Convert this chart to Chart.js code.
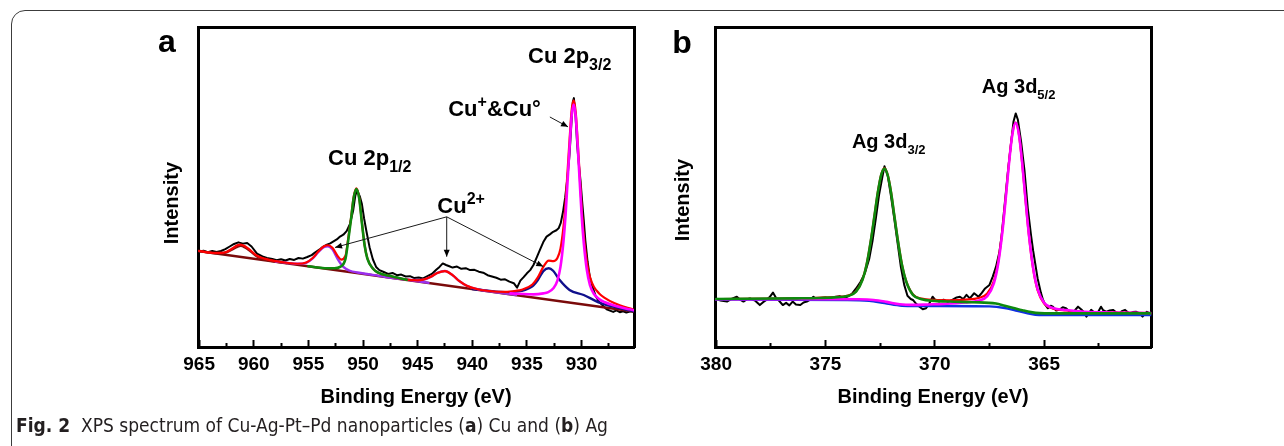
<!DOCTYPE html>
<html>
<head>
<meta charset="utf-8">
<script src="https://cdn.jsdelivr.net/npm/chart.js@4.4.1/dist/chart.umd.min.js"></script>
<style>
  html, body { margin:0; padding:0; background:#fff; width:1284px; height:446px; overflow:hidden; position:relative; }
  #frame { position:absolute; left:11px; top:10px; width:1400px; height:600px; border:1px solid #3c3c3c; border-radius:14px; box-sizing:border-box; }
  #ca { position:absolute; left:140px; top:0; width:520px; height:420px; }
  #cb { position:absolute; left:650px; top:0; width:530px; height:420px; }
  #cap { position:absolute; left:16px; top:414px; font-family:"Liberation Sans Narrow","DejaVu Sans Condensed",Arial,sans-serif; font-size:19px; color:#231f20; white-space:nowrap; }
</style>
</head>
<body>
<div id="frame"></div>
<canvas id="ca" width="520" height="420"></canvas>
<canvas id="cb" width="530" height="420"></canvas>
<div id="cap"><b>Fig. 2</b>&nbsp;&nbsp;XPS spectrum of Cu-Ag-Pt–Pd nanoparticles (<b>a</b>) Cu and (<b>b</b>) Ag</div>
<script>
// ---------------- Panel a : Cu 2p ----------------
const cuTicks = [965, 960, 955, 950, 945, 940, 935, 930];
const cuMinor = [962.5, 957.5, 952.5, 947.5, 942.5, 937.5, 932.5, 927.5];

const cuRaw = [[965.0,29.6],[964.6,29.9],[964.2,29.4],[963.8,29.8],[963.4,29.5],[963.0,29.8],[962.6,30.4],[962.2,31.2],[961.8,32.0],[961.4,32.5],[961.0,32.1],[960.6,32.3],[960.2,31.2],[959.7,29.0],[959.2,28.1],[958.8,27.6],[958.3,27.3],[957.9,26.9],[957.5,27.2],[957.1,26.8],[956.7,27.3],[956.3,27.0],[955.9,27.6],[955.5,27.4],[955.1,27.9],[954.7,28.5],[954.4,29.3],[954.0,30.2],[953.7,31.0],[953.3,31.8],[953.0,32.2],[952.7,32.8],[952.4,33.4],[952.1,34.3],[951.8,34.9],[951.5,36.0],[951.2,38.2],[950.9,42.5],[950.7,47.2],[950.55,48.8],[950.3,47.0],[950.1,44.5],[949.9,40.0],[949.7,36.2],[949.4,31.0],[949.1,27.2],[948.8,24.8],[948.5,23.8],[948.1,23.2],[947.7,22.6],[947.3,22.9],[946.9,22.2],[946.5,22.4],[946.1,21.8],[945.7,21.9],[945.3,21.3],[944.9,21.5],[944.5,21.2],[944.1,21.9],[943.7,22.6],[943.3,23.9],[943.0,24.8],[942.7,25.9],[942.4,25.4],[942.1,25.0],[941.8,24.6],[941.4,24.9],[941.0,24.2],[940.6,24.4],[940.2,23.8],[939.8,23.9],[939.4,23.3],[939.0,23.0],[938.6,22.2],[938.2,21.8],[937.8,21.4],[937.4,20.8],[937.0,20.9],[936.6,20.2],[936.2,19.7],[935.9,18.3],[935.6,20.5],[935.3,21.6],[935.0,22.8],[934.7,23.8],[934.4,25.4],[934.1,27.8],[933.8,30.2],[933.5,32.6],[933.2,34.3],[932.9,35.0],[932.6,35.8],[932.3,36.3],[932.1,36.9],[931.9,38.6],[931.7,42.0],[931.5,46.5],[931.3,52.5],[931.1,60.0],[930.95,68.5],[930.8,76.5],[930.7,77.7],[930.55,72.0],[930.4,63.0],[930.25,57.0],[930.1,52.0],[929.95,45.5],[929.8,39.5],[929.65,33.0],[929.45,26.5],[929.25,21.8],[929.0,18.6],[928.7,15.6],[928.4,13.9],[928.0,12.5],[927.7,11.5],[927.4,11.1],[927.1,10.7],[926.8,11.2],[926.5,10.6],[926.2,10.9],[925.9,10.5],[925.5,10.9],[925.2,10.7]];

const cuBaseline = [[965.1,29.8],[925.2,10.8]];

const cuSat961 = [[965,29.8],[963.5,29.1],[962.5,29.4],[962,30.2],[961.5,31.1],[961.2,31.4],[960.8,30.9],[960.3,29.7],[959.7,28.1],[959,27.2],[958,26.5],[957,26.0]];

const cuSat953 = [[958,26.5],[957,26.1],[956,25.8],[955.2,26.1],[954.6,27.5],[954.1,29.4],[953.6,31.0],[953.2,31.3],[952.8,30.3],[952.3,27.2],[951.8,24.8],[951.2,23.6],[950.5,23.05],[949.5,22.5],[948,21.7],[946,20.8],[944,19.8]];

const cu2p12 = [[955,25.0],[953.5,24.4],[952.6,24.4],[952.1,24.8],[951.6,27.4],[951.35,33.2],[951.1,39.6],[950.85,46.5],[950.6,49.2],[950.35,46.3],[950.1,38.6],[949.85,31.5],[949.6,27.4],[949.1,24.3],[948.6,23.0],[947.6,22.0],[946,20.8]];

const cuSat942 = [[948,21.7],[947,21.2],[945.5,20.7],[944.5,20.8],[943.8,21.7],[943.2,22.9],[942.5,23.5],[941.8,22.2],[941.2,20.4],[940.5,18.9],[939.5,17.8],[938,16.9],[936,16.0]];

const cu2p32Cu2 = [[940,17.9],[937,16.9],[935.5,17.3],[934.5,18.7],[934,20.7],[933.5,23.5],[933,24.4],[932.6,23.6],[932,20.7],[931.1,17.6],[929.8,16.0],[928.3,13.5],[926.5,11.9],[925.2,10.9]];

const cu2p32Cu0 = [[936.5,16.5],[935.8,16.4],[934.4,16.2],[933.5,16.5],[933.05,16.9],[932.58,18.1],[932.21,20.5],[931.93,24.8],[931.65,33.0],[931.46,41.2],[931.28,51.6],[931.09,62.7],[930.91,72.0],[930.72,75.7],[930.53,71.8],[930.35,62.4],[930.16,51.1],[929.98,40.5],[929.79,32.1],[929.51,23.7],[929.23,19.1],[928.86,16.3],[928.39,14.7],[927.92,13.8],[927.02,12.7],[925.62,11.5],[925.2,11.2]];

const cuEnvelope = [[965,29.8],[964,29.3],[963,29.2],[962.5,29.5],[962,30.5],[961.5,31.6],[961.2,31.8],[960.8,31.3],[960.3,30.0],[959.7,28.3],[959,27.4],[958,26.6],[957,26.1],[956,25.8],[955.2,26.2],[954.6,27.6],[954.1,29.6],[953.6,31.2],[953.2,31.6],[952.8,30.8],[952.3,28.1],[952.0,27.1],[951.6,28.3],[951.35,33.8],[951.1,40.0],[950.85,46.8],[950.6,49.45],[950.35,46.5],[950.1,38.75],[949.85,31.6],[949.6,27.5],[949.1,24.3],[948.6,23.0],[947.6,22.0],[946,20.8],[945,20.6],[944.5,20.8],[943.8,21.7],[943.2,22.9],[942.5,23.5],[941.8,22.2],[941.2,20.4],[940.5,18.9],[939.5,17.8],[938,17.1],[937,17.0],[936,17.3],[935.5,17.6],[934.5,19.3],[934,21.5],[933.5,24.8],[933,26.8],[932.58,26.6],[932.21,27.6],[931.93,30.5],[931.65,37.5],[931.46,45.0],[931.28,54.8],[931.09,65.0],[930.91,73.8],[930.72,77.0],[930.53,73.2],[930.35,64.0],[930.16,53.0],[929.98,42.8],[929.79,34.5],[929.51,26.3],[929.23,21.6],[928.86,18.5],[928.39,16.5],[927.92,15.2],[927.02,13.5],[925.62,11.8],[925.2,11.4]];

// ---------------- Panel b : Ag 3d ----------------
const agTicks = [380, 375, 370, 365];
const agMinor = [377.5, 372.5, 367.5, 362.5];

const agRaw = [[380.0,15.2],[379.8,14.5],[379.5,14.2],[379.3,15.0],[379.05,15.7],[378.9,14.8],[378.75,14.2],[378.6,14.9],[378.45,15.2],[378.2,14.4],[378.0,13.1],[377.85,14.0],[377.7,14.7],[377.55,15.6],[377.4,17.0],[377.25,15.2],[377.1,14.3],[376.95,13.1],[376.8,13.8],[376.65,13.0],[376.5,14.2],[376.35,13.3],[376.15,13.1],[376.0,13.9],[375.85,14.2],[375.7,14.8],[375.55,15.7],[375.4,15.0],[375.2,15.3],[375.0,15.5],[374.8,15.1],[374.6,15.6],[374.35,15.9],[374.2,15.4],[374.0,15.7],[373.8,16.5],[373.6,18.3],[373.4,20.3],[373.2,23.0],[373.0,27.5],[372.85,33.0],[372.7,40.0],[372.55,47.5],[372.4,53.0],[372.3,56.5],[372.15,53.5],[372.0,47.0],[371.85,40.0],[371.7,32.5],[371.55,25.0],[371.4,19.5],[371.25,16.0],[371.1,15.0],[371.0,14.7],[370.85,13.5],[370.7,12.6],[370.55,11.8],[370.4,12.1],[370.25,13.6],[370.1,15.7],[369.95,14.5],[369.8,14.2],[369.6,14.8],[369.4,14.1],[369.2,14.7],[369.0,15.5],[368.85,15.7],[368.7,15.0],[368.55,16.3],[368.4,15.2],[368.2,16.8],[368.0,15.7],[367.85,16.9],[367.7,18.3],[367.5,19.4],[367.35,22.0],[367.2,25.1],[367.05,29.5],[366.95,34.5],[366.8,44.9],[366.65,55.3],[366.5,64.5],[366.4,70.5],[366.3,73.0],[366.2,71.0],[366.05,64.0],[365.9,55.3],[365.75,43.5],[365.6,35.0],[365.5,30.0],[365.3,21.5],[365.15,17.0],[365.05,14.7],[364.95,13.2],[364.83,12.1],[364.7,12.9],[364.6,12.6],[364.45,11.4],[364.3,11.6],[364.15,12.4],[364.0,12.1],[363.85,11.2],[363.7,10.5],[363.55,11.8],[363.45,12.6],[363.3,11.7],[363.2,11.0],[363.07,9.5],[362.95,10.6],[362.85,11.6],[362.7,10.8],[362.6,10.0],[362.5,11.3],[362.4,12.6],[362.3,11.5],[362.15,11.0],[362.0,11.4],[361.85,11.6],[361.7,10.8],[361.55,10.5],[361.45,11.2],[361.3,11.6],[361.2,11.0],[361.1,10.5],[360.95,10.9],[360.8,11.0],[360.65,10.6],[360.5,9.5],[360.4,10.3],[360.3,11.0],[360.15,10.5]];

const ag3d32 = [[380,15.0],[376.3,15.2],[375.3,15.3],[374.6,15.5],[374.0,15.9],[373.6,17.3],[373.3,21.1],[373.1,26.3],[372.9,34.3],[372.75,41.4],[372.6,48.5],[372.45,53.8],[372.3,55.8],[372.15,53.6],[372.0,48.3],[371.85,41.0],[371.7,33.8],[371.5,25.6],[371.3,20.3],[371.0,16.3],[370.6,14.9],[370.0,14.4],[369.3,14.2],[368.3,14.0],[367.2,13.6],[366.8,12.9],[366.4,12.2],[366.0,11.5],[365.6,10.9],[365.2,10.6],[364.0,10.5],[360.1,10.5]];

const ag3d52 = [[380,14.9],[375,14.95],[373.5,14.9],[372.8,14.7],[372.2,14.1],[371.6,13.35],[371.0,13.15],[370.3,13.3],[369.6,13.45],[368.6,13.9],[368.0,14.45],[367.6,15.9],[367.3,19.9],[367.1,26.1],[366.9,36.55],[366.75,46.9],[366.6,57.85],[366.45,66.6],[366.3,70.05],[366.15,66.3],[366.0,57.25],[365.85,46.0],[365.7,35.35],[365.5,24.6],[365.3,18.1],[365.0,13.85],[364.6,12.2],[364.0,11.55],[363.3,11.1],[362.3,10.85],[360.1,10.6]];

const agBackground = [[380,14.8],[374,14.7],[373,14.4],[372.3,13.7],[371.5,12.9],[370,12.8],[367.5,12.7],[366.8,12.2],[366.3,11.4],[365.8,10.6],[365.4,10.1],[364.5,10.0],[360.1,10.0]];

const agEnvelope = [[380,15.0],[376,15.25],[374.6,15.6],[374.0,16.0],[373.6,17.4],[373.3,21.2],[373.1,26.4],[372.9,34.4],[372.75,41.5],[372.6,48.6],[372.45,53.9],[372.3,55.9],[372.15,53.7],[372.0,48.4],[371.85,41.1],[371.7,33.9],[371.5,25.75],[371.3,20.45],[371.0,16.45],[370.6,15.1],[370.0,14.7],[369.3,14.6],[368.6,14.8],[368.0,15.3],[367.6,16.7],[367.3,20.6],[367.1,26.7],[366.9,37.0],[366.75,47.3],[366.6,58.2],[366.45,66.8],[366.3,70.15],[366.15,66.3],[366.0,57.1],[365.85,45.8],[365.7,35.1],[365.5,24.25],[365.3,17.75],[365.0,13.55],[364.6,12.0],[364.0,11.4],[363.3,11.0],[362.3,10.8],[360.1,10.6]];

// ---------------- helpers ----------------
const FAM = '"Liberation Sans", Arial, Helvetica, sans-serif';

function toXY(p) { return p.map(([x, y]) => ({ x, y })); }
function line(pts, color, width, order, smooth) {
  return {
    data: toXY(pts), borderColor: color, backgroundColor: color, borderWidth: width, order,
    pointRadius: 0, pointHoverRadius: 0, fill: false, tension: 0,
    cubicInterpolationMode: smooth ? 'monotone' : 'default',
    borderJoinStyle: 'round', borderCapStyle: 'round', xAxisID: 'x', yAxisID: 'y'
  };
}

function scalesCfg(o) {
  const tickFont = { family: FAM, size: 19, weight: 'bold' };
  return {
    x: {
      type: 'linear', position: 'bottom', reverse: true, min: o.min, max: o.max, weight: 1,
      afterBuildTicks: s => { s.ticks = o.ticks.map(v => ({ value: v })); },
      ticks: { autoSkip: false, maxRotation: 0, minRotation: 0, color: '#000', font: tickFont, padding: 13, callback: v => String(v) },
      grid: { display: true, drawOnChartArea: false, drawTicks: true, tickLength: -7, tickWidth: 2, tickColor: '#000' },
      border: { display: true, width: 3, color: '#000' },
      title: { display: true, text: 'Binding Energy (eV)', color: '#000', font: { family: FAM, size: 20, weight: 'bold' }, padding: { top: 0, bottom: 11 } },
      afterFit: s => { s.height = o.xHeight; }
    },
    x2: {
      type: 'linear', position: 'bottom', reverse: true, min: o.min, max: o.max, weight: 0,
      afterBuildTicks: s => { s.ticks = o.minor.map(v => ({ value: v })); },
      ticks: { display: false },
      grid: { display: true, drawOnChartArea: false, drawTicks: true, tickLength: -4, tickWidth: 2, tickColor: '#000' },
      border: { display: false },
      afterFit: s => { s.height = 0; }
    },
    xt: {
      type: 'linear', position: 'top', reverse: true, min: o.min, max: o.max,
      ticks: { display: false }, grid: { display: false, drawTicks: false },
      border: { display: true, width: 3, color: '#000' },
      afterFit: s => { s.height = 0; }
    },
    y: {
      type: 'linear', position: 'left', min: o.ymin, max: o.ymax,
      ticks: { display: false }, grid: { display: false, drawTicks: false },
      border: { display: true, width: 3, color: '#000' },
      afterFit: s => { s.width = o.yWidth; }
    },
    yr: {
      type: 'linear', position: 'right', min: o.ymin, max: o.ymax,
      ticks: { display: false }, grid: { display: false, drawTicks: false },
      border: { display: true, width: 3, color: '#000' },
      afterFit: s => { s.width = 0; }
    }
  };
}

function richText(ctx, x, y, parts, size, subSize) {
  let cx = x;
  for (const [t, kind] of parts) {
    const fs = kind ? subSize : size;
    ctx.font = 'bold ' + fs + 'px ' + FAM;
    const dy = kind === 'sub' ? size * 0.30 : kind === 'sup' ? -size * 0.40 : 0;
    ctx.fillText(t, cx, y + dy);
    cx += ctx.measureText(t).width;
  }
}

function arrow(ctx, x1, y1, x2, y2) {
  ctx.beginPath(); ctx.moveTo(x1, y1); ctx.lineTo(x2, y2); ctx.stroke();
  const a = Math.atan2(y2 - y1, x2 - x1), L = 7, W = 3;
  ctx.beginPath();
  ctx.moveTo(x2, y2);
  ctx.lineTo(x2 - L * Math.cos(a) + W * Math.sin(a), y2 - L * Math.sin(a) - W * Math.cos(a));
  ctx.lineTo(x2 - L * Math.cos(a) - W * Math.sin(a), y2 - L * Math.sin(a) + W * Math.cos(a));
  ctx.closePath(); ctx.fill();
}

function annotPlugin(cfg) {
  return {
    id: 'annot',
    afterDraw(chart) {
      const { ctx, scales: { x, y } } = chart;
      const X = v => x.getPixelForValue(v), Y = v => y.getPixelForValue(v);
      ctx.save();
      ctx.fillStyle = '#000'; ctx.strokeStyle = '#1a1a1a'; ctx.lineWidth = 1;
      ctx.textBaseline = 'alphabetic'; ctx.textAlign = 'left';
      ctx.font = 'bold 32px ' + FAM;
      ctx.fillText(cfg.letter.t, X(cfg.letter.x), Y(cfg.letter.y));
      for (const l of cfg.labels) richText(ctx, X(l.x), Y(l.y), l.parts, cfg.fontSize, cfg.subSize);
      for (const a of cfg.arrows) arrow(ctx, X(a[0]), Y(a[1]), X(a[2]), Y(a[3]));
      ctx.save();
      ctx.translate(X(cfg.ytitle.x), Y(cfg.ytitle.y));
      ctx.rotate(-Math.PI / 2);
      ctx.textAlign = 'center'; ctx.textBaseline = 'middle';
      ctx.font = 'bold 20px ' + FAM;
      ctx.fillText('Intensity', 0, 0);
      ctx.restore();
      ctx.restore();
    }
  };
}

const common = {
  responsive: false, animation: false, devicePixelRatio: 1,
  plugins: { legend: { display: false }, tooltip: { enabled: false } },
  events: []
};

// ---------------- Chart a ----------------
new Chart(document.getElementById('ca'), {
  type: 'line',
  data: {
    datasets: [
      line(cu2p12, '#0e8a0e', 2.6, 1, true),
      line(cu2p32Cu0, '#ff00ff', 2.6, 2, true),
      line(cuEnvelope, '#ff0000', 2.2, 3, true),
      line(cuSat953, '#9a30f0', 2.4, 4, true),
      line(cuSat942, '#9a35c8', 2.4, 4, true),
      line(cu2p32Cu2, '#10108c', 2.4, 5, true),
      line(cuSat961, '#8b1010', 2.4, 6, true),
      line(cuBaseline, '#7a0a0a', 2.6, 7, false),
      line(cuRaw, '#000000', 2.0, 8, false)
    ]
  },
  options: Object.assign({}, common, {
    layout: { padding: { left: 0, top: 27, right: 26, bottom: 0 } },
    scales: scalesCfg({ min: 925.2, max: 965.1, ymin: -0.3, ymax: 100, ticks: cuTicks, minor: cuMinor, yWidth: 58, xHeight: 73 })
  }),
  plugins: [annotPlugin({
    fontSize: 22, subSize: 16,
    letter: { t: 'a', x: 968.75, y: 92.2 },
    ytitle: { x: 967.47, y: 44.8 },
    labels: [
      { x: 934.9, y: 88.6, parts: [['Cu 2p'], ['3/2', 'sub']] },
      { x: 953.2, y: 56.7, parts: [['Cu 2p'], ['1/2', 'sub']] },
      { x: 942.2, y: 72.1, parts: [['Cu'], ['+', 'sup'], ['&Cu°']] },
      { x: 943.2, y: 41.7, parts: [['Cu'], ['2+', 'sup']] }
    ],
    arrows: [
      [942.34, 40.5, 952.56, 30.9],
      [942.34, 40.5, 942.34, 28.0],
      [942.34, 40.5, 933.5, 24.9],
      [932.9, 71.8, 931.24, 68.7]
    ]
  })]
});

// ---------------- Chart b ----------------
new Chart(document.getElementById('cb'), {
  type: 'line',
  data: {
    datasets: [
      line(ag3d32, '#0e8a0e', 2.6, 1, true),
      line(ag3d52, '#ff00ff', 2.6, 2, true),
      line(agEnvelope, '#ff0000', 2.2, 3, true),
      line(agBackground, '#1030e0', 2.4, 4, true),
      line(agRaw, '#000000', 2.0, 5, false)
    ]
  },
  options: Object.assign({}, common, {
    layout: { padding: { left: 0, top: 27, right: 28.7, bottom: 0 } },
    scales: scalesCfg({ min: 360.1, max: 380.05, ymin: 0, ymax: 100, ticks: agTicks, minor: agMinor, yWidth: 65, xHeight: 73 })
  }),
  plugins: [annotPlugin({
    fontSize: 20, subSize: 13,
    letter: { t: 'b', x: 382.0, y: 91.9 },
    ytitle: { x: 381.5, y: 45.9 },
    labels: [
      { x: 373.79, y: 62.2, parts: [['Ag 3d'], ['3/2', 'sub']] },
      { x: 367.85, y: 79.4, parts: [['Ag 3d'], ['5/2', 'sub']] }
    ],
    arrows: []
  })]
});
</script>
</body>
</html>
